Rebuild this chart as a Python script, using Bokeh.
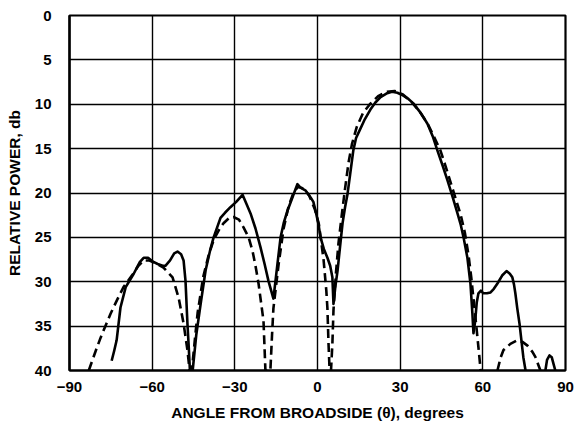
from bokeh.plotting import figure
from bokeh.models import Range1d, FixedTicker
from bokeh.embed import file_html
from bokeh.resources import INLINE

# ---- data ----
x_ticks = [-90, -60, -30, 0, 30, 60, 90]
x_tick_labels = {-90: "\u221290", -60: "\u221260", -30: "\u221230", 0: "0", 30: "30", 60: "60", 90: "90"}
y_ticks = [0, 5, 10, 15, 20, 25, 30, 35, 40]

solid_x = [-74.7, -73.8, -72.9, -71.5, -69.6, -66.7, -64.5, -63.1, -61.5, -59.9, -58.0, -56.2, -55.2,
           -53.5, -52.0, -50.8, -49.5, -48.6, -47.9, -47.2, -46.7, -46.3,
           -45.3, -44.0, -42.4, -40.6, -39.0, -37.7, -35.2, -33.5, -31.6, -29.5, -27.2, -25.8, -24.3,
           -22.5, -20.7, -19.2, -17.8, -16.0, -15.2, -14.5, -13.4, -12.2, -10.9, -9.1, -7.3, -6.2,
           -4.4, -2.5, -1.5, -0.7, 0.4, 1.1, 2.3, 3.6, 4.6, 5.4, 5.8,
           6.5, 7.3, 8.2, 9.1, 10.0, 10.9, 11.8, 13.0, 14.0, 15.2, 17.0, 19.2, 21.0, 22.9, 25.0, 27.0,
           29.0, 31.0, 33.0, 34.8, 37.5, 39.9, 41.8, 43.5, 45.4, 47.2, 49.0, 50.8, 52.0, 53.0, 54.4,
           55.5, 56.2, 56.6, 57.2, 57.8, 58.4, 59.3, 60.2, 61.5, 62.8, 64.0, 65.3, 67.0, 68.6, 69.8,
           70.7, 71.3, 71.8, 72.5, 73.3, 74.0, 74.7, 75.5]
solid_y = [38.9, 37.8, 36.6, 32.9, 30.6, 29.1, 27.8, 27.3, 27.3, 27.7, 28.0, 28.2, 28.2,
           27.6, 26.8, 26.6, 26.9, 27.6, 29.9, 34.7, 37.5, 40.0,
           40.0, 36.0, 32.5, 28.7, 26.5, 25.0, 22.8, 22.2, 21.6, 21.0, 20.2, 21.2, 22.3,
           24.0, 26.1, 28.0, 29.9, 31.9, 29.8, 27.9, 25.0, 23.3, 22.0, 20.5, 19.0, 19.4,
           19.7, 20.5, 21.0, 22.0, 23.6, 25.0, 26.3, 27.3, 28.2, 29.5, 32.5,
           30.5, 28.7, 26.0, 23.4, 21.6, 20.1, 18.0, 15.2, 13.8, 13.0, 11.8, 10.6, 9.8, 9.2, 8.8, 8.6,
           8.7, 9.0, 9.4, 9.9, 11.0, 12.2, 13.6, 15.2, 16.9, 18.6, 20.4, 22.3, 23.6, 25.0, 27.3,
           30.2, 33.5, 35.8, 34.5, 32.3, 31.3, 31.0, 31.3, 31.3, 31.2, 30.8, 30.2, 29.3, 28.8, 29.1,
           29.5, 30.3, 31.3, 33.0, 34.7, 36.6, 38.5, 40.0]

solid_tail_x = [82.7, 83.3, 84.2, 85.0, 85.7, 86.3]
solid_tail_y = [40.0, 38.8, 38.3, 38.5, 39.3, 40.0]

dashed_x = [-83.0, -80.5, -78.7, -75.1, -72.5, -70.4, -66.7, -65.0, -63.1, -61.0, -59.5, -55.9, -52.6,
            -50.4, -48.6, -47.2, -46.4,
            -45.6, -44.5, -43.5, -41.5, -39.5, -37.7, -35.5, -34.1, -32.0, -30.5, -28.5, -26.8, -25.0,
            -23.6, -22.5, -21.4, -19.6, -18.9,
            -17.1, -16.5, -16.0, -14.1, -12.3, -10.5, -8.5, -7.0, -5.0, -3.0, -1.0, 0.5, 2.2, 3.2, 3.6,
            4.0, 4.4,
            4.9, 5.4, 5.8, 6.7, 7.6, 8.8, 10.0, 11.3, 12.5, 14.2, 16.5, 19.0, 22.0, 25.0, 28.0, 31.0,
            34.0, 37.0, 40.0, 42.5, 44.6, 46.5, 48.5, 50.5, 52.0, 53.5, 54.8, 55.8, 56.8, 57.8, 58.6, 59.2]
dashed_y = [40.0, 37.8, 36.3, 33.6, 31.9, 30.6, 29.0, 28.2, 27.6, 27.6, 27.8, 28.4, 29.5,
            31.8, 34.7, 37.7, 40.0,
            40.0, 36.5, 33.5, 29.5, 27.0, 25.3, 24.0, 23.4, 22.8, 22.7, 23.0, 23.9, 25.0,
            26.5, 28.2, 30.2, 34.4, 40.0,
            40.0, 36.0, 33.0, 28.0, 24.0, 21.5, 19.8, 19.3, 19.5, 20.3, 21.8, 23.5, 27.5, 31.0, 33.0,
            37.0, 40.0,
            40.0, 37.0, 33.2, 29.0, 25.7, 22.5, 19.5, 16.5, 14.5, 12.6, 11.0, 10.0, 9.1, 8.6, 8.5, 8.9,
            9.7, 10.8, 12.2, 13.8, 15.2, 17.0, 19.0, 21.0, 22.5, 24.5, 27.0, 29.5, 32.5, 35.5, 38.0, 40.0]

dashed_tail_x = [65.3, 66.5, 67.5, 70.0, 72.5, 74.5, 76.2, 78.0, 79.1, 80.9]
dashed_tail_y = [40.0, 38.5, 37.7, 37.0, 36.6, 36.8, 37.2, 37.9, 38.5, 40.0]

# ---- figure ----
FONT = "Liberation Sans"
p = figure(width=579, height=431, output_backend="svg", toolbar_location=None,
           x_range=Range1d(-90, 90), y_range=Range1d(40, 0),
           min_border_left=69, min_border_right=14, min_border_top=15, min_border_bottom=61)
p.background_fill_color = "white"
p.border_fill_color = "white"
p.outline_line_color = "black"
p.outline_line_width = 2.2

for ax in (p.xaxis[0], p.yaxis[0]):
    ax.axis_line_color = "black"
    ax.axis_line_width = 2.2
    ax.major_tick_line_color = None
    ax.minor_tick_line_color = None
    ax.major_label_text_font = FONT
    ax.major_label_text_font_style = "bold"
    ax.major_label_text_font_size = "15px"
    ax.major_label_text_color = "black"
    ax.axis_label_text_font = FONT
    ax.axis_label_text_font_style = "bold"
    ax.axis_label_text_color = "black"

p.xaxis.ticker = FixedTicker(ticks=x_ticks)
p.xaxis.major_label_overrides = x_tick_labels
p.xaxis.major_label_standoff = 5
p.xaxis.axis_label = "ANGLE FROM BROADSIDE (\u03b8), degrees"
p.xaxis.axis_label_text_font_size = "15.5px"
p.xaxis.axis_label_standoff = 9

p.yaxis.ticker = FixedTicker(ticks=y_ticks)
p.yaxis.major_label_standoff = 12
p.yaxis.axis_label = "RELATIVE POWER, db"
p.yaxis.axis_label_text_font_size = "15.5px"
p.yaxis.axis_label_standoff = 9

p.xgrid.ticker = FixedTicker(ticks=x_ticks)
p.ygrid.ticker = FixedTicker(ticks=y_ticks)
for g in (p.xgrid[0], p.ygrid[0]):
    g.grid_line_color = "black"
    g.grid_line_width = 1.4
    g.grid_line_alpha = 1.0

p.line(solid_x, solid_y, line_color="black", line_width=2.6, line_join="round")
p.line(solid_tail_x, solid_tail_y, line_color="black", line_width=2.6, line_join="round")
p.line(dashed_x, dashed_y, line_color="black", line_width=2.6, line_dash="9 5")
p.line(dashed_tail_x, dashed_tail_y, line_color="black", line_width=2.6, line_dash="9 5")

open("out.html", "w").write(file_html(p, INLINE))
